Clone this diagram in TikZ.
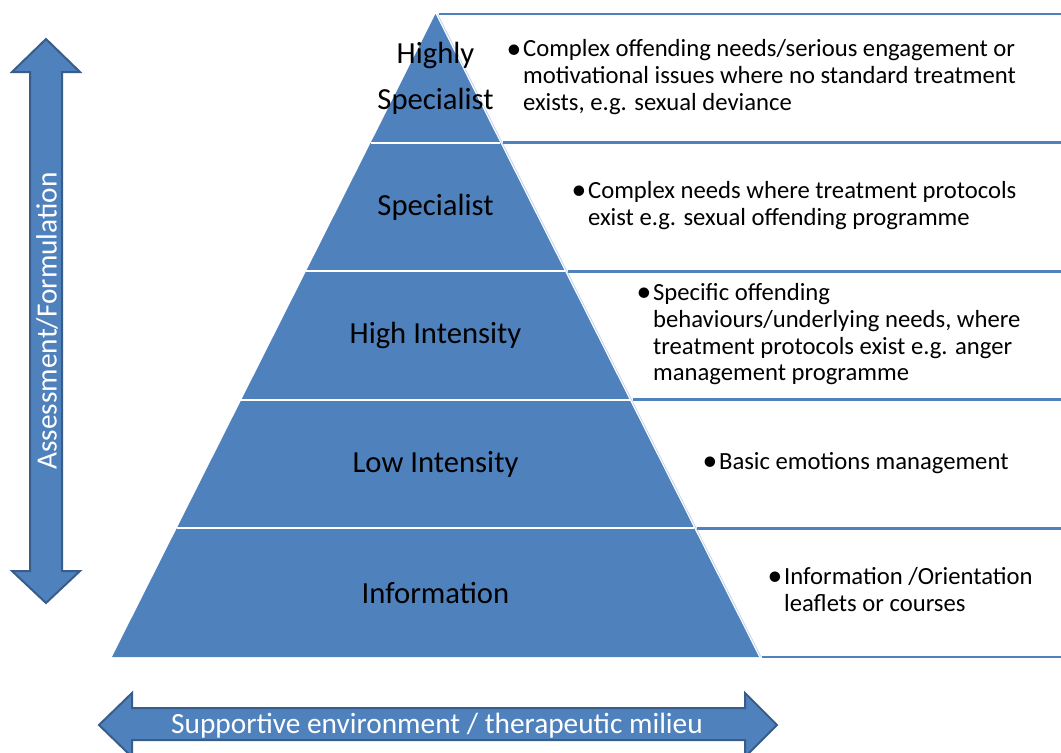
\documentclass[tikz,border=0pt]{standalone}
\usepackage{xcolor}
\usepackage{graphicx}
\usepackage{tikz}
\usepackage{fontspec}
\setmainfont{Carlito}
\definecolor{pyrblue}{RGB}{79,129,189}
\definecolor{pyrdark}{RGB}{56,93,138}
\definecolor{pyrpale}{RGB}{196,212,234}
\newcommand{\needlines}[1]{\begin{tabular}{@{}l@{}l@{}}\makebox[8.5pt][l]{\hspace{-3.8pt}\raisebox{-0.8pt}{\scalebox{1.2}{\textbullet}}}&\begin{tabular}[t]{@{}l@{}}#1\end{tabular}\end{tabular}}

\begin{document}
\begin{tikzpicture}[x=0.75pt,y=0.75pt,yscale=-1,xscale=1,
  layer label/.style={align=center, inner sep=0.75pt, font=\fontsize{23}{34.5}\selectfont},
  need text/.style={anchor=west, inner sep=0pt, font=\fontsize{18.5}{20}\selectfont},
  band line/.style={draw=pyrblue, line width=2pt},
  block arrow/.style={fill=pyrblue, draw=pyrdark, line width=1.5pt, line join=miter},
  arrow text/.style={text=white, inner sep=0pt, font=\fontsize{22}{26}\selectfont}]
\useasboundingbox (0,0) rectangle (1061,753);

%Shape: Triangle [pyramid]
\fill[pyrblue] (435.5,14) -- (759,657) -- (112,657) -- cycle ;
%Straight Lines [layer separators]
\draw[white, line width=1.5pt] (370.8,142.6) -- (500.2,142.6) ;
\draw[white, line width=1.5pt] (306.1,271.2) -- (564.9,271.2) ;
\draw[white, line width=1.5pt] (241.4,399.8) -- (629.6,399.8) ;
\draw[white, line width=1.5pt] (176.7,528.4) -- (694.3,528.4) ;
%Straight Lines [edge of the boxes]
\draw[pyrpale, line width=0.6pt] (437.5,14) -- (761,657) ;
%Straight Lines [box borders]
\draw[band line] (438.5,14) -- (1061,14) ;
\draw[band line] (503.2,142.6) -- (1061,142.6) ;
\draw[band line] (567.9,271.2) -- (1061,271.2) ;
\draw[band line] (632.6,399.8) -- (1061,399.8) ;
\draw[band line] (697.3,528.4) -- (1061,528.4) ;
\draw[band line] (762,657) -- (1061,657) ;

%Shape: Up Down Arrow [id:assess]
\draw[block arrow] (46,39) -- (80,72) -- (62,72) -- (62,571) -- (80,571) -- (46,603) -- (12,571) -- (30,571) -- (30,72) -- (12,72) -- cycle ;
%Shape: Left Right Arrow [id:milieu]
\draw[block arrow] (99,725) -- (132,693) -- (132,708) -- (745,708) -- (745,693) -- (777,725) -- (745,757) -- (745,740) -- (132,740) -- (132,757) -- cycle ;

% Text Node
\node[arrow text, rotate=90] (assess) at (47,321) {Assessment/Formulation};
% Text Node
\node[arrow text] (milieu) at (437,726) {Supportive environment / therapeutic milieu};

% Text Node
\node[layer label] (highly) at (435.5,78) {Highly\\Specialist};
% Text Node
\node[layer label] (specialist) at (435.5,206.9) {Specialist};
% Text Node
\node[layer label] (high) at (435.5,335.5) {High Intensity};
% Text Node
\node[layer label] (low) at (435.5,464.1) {Low Intensity};
% Text Node
\node[layer label] (info) at (435.5,592.7) {Information};

% Text Node
\node[need text] (needhighly) at (511.5,78.3) {\needlines{Complex offending needs/serious engagement or\\motivational issues where no standard treatment\\exists, e.g. sexual deviance}};
% Text Node
\node[need text] (needspecialist) at (576.5,206.9) {\needlines{Complex needs where treatment protocols\\exist e.g. sexual offending programme}};
% Text Node
\node[need text] (needhigh) at (641.5,335.5) {\needlines{Specific offending\\behaviours/underlying needs, where\\treatment protocols exist e.g. anger\\management programme}};
% Text Node
\node[need text] (needlow) at (707.5,464.1) {\needlines{Basic emotions management}};
% Text Node
\node[need text] (needinfo) at (772.5,592.7) {\needlines{Information /Orientation\\leaflets or courses}};

\end{tikzpicture}
\end{document}
